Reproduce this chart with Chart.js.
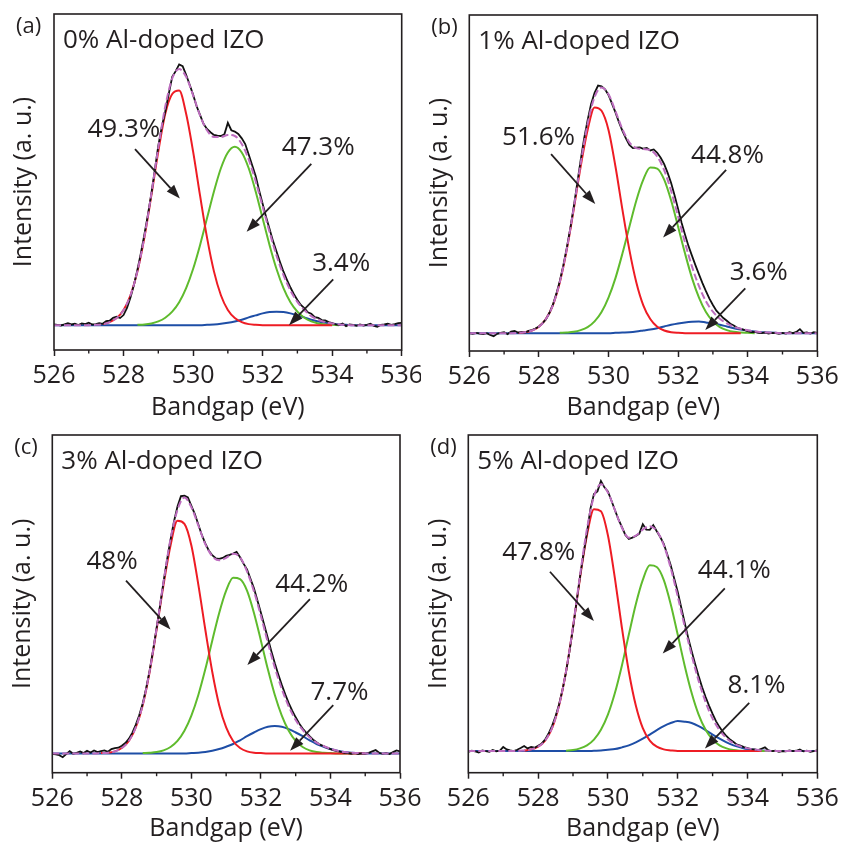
<!DOCTYPE html>
<html><head><meta charset="utf-8">
<script src="https://cdn.jsdelivr.net/npm/chart.js@4.4.1/dist/chart.umd.min.js"></script>
<style>
html,body{margin:0;padding:0;background:#fff;}
#wrap{position:relative;width:842px;height:846px;overflow:hidden;background:#fff;}
canvas{position:absolute;}
</style></head><body>
<div id="wrap">
<canvas id="ca" width="421" height="426" style="left:0px;top:0px;width:421px;height:426px"></canvas>
<canvas id="cb" width="422" height="426" style="left:420px;top:0px;width:422px;height:426px"></canvas>
<canvas id="cc" width="421" height="426" style="left:0px;top:420px;width:421px;height:426px"></canvas>
<canvas id="cd" width="422" height="426" style="left:420px;top:420px;width:422px;height:426px"></canvas>
</div>
<script>
const N = null;
// Binding energy grids (eV)
const eV_data = [
526.0,526.1,526.2,526.3,526.4,526.5,526.6,526.7,526.8,526.9,
527.0,527.1,527.2,527.3,527.4,527.5,527.6,527.7,527.8,527.9,
528.0,528.1,528.2,528.3,528.4,528.5,528.6,528.7,528.8,528.9,
529.0,529.1,529.2,529.3,529.4,529.5,529.6,529.7,529.8,529.9,
530.0,530.1,530.2,530.3,530.4,530.5,530.6,530.7,530.8,530.9,
531.0,531.1,531.2,531.3,531.4,531.5,531.6,531.7,531.8,531.9,
532.0,532.1,532.2,532.3,532.4,532.5,532.6,532.7,532.8,532.9,
533.0,533.1,533.2,533.3,533.4,533.5,533.6,533.7,533.8,533.9,
534.0,534.1,534.2,534.3,534.4,534.5,534.6,534.7,534.8,534.9,
535.0,535.1,535.2,535.3,535.4,535.5,535.6,535.7,535.8,535.9,
536.0];
const eV_fit = [
526.0,526.2,526.4,526.6,526.8,527.0,527.2,527.4,527.6,527.8,
528.0,528.2,528.4,528.6,528.8,529.0,529.2,529.4,529.6,529.8,
530.0,530.2,530.4,530.6,530.8,531.0,531.2,531.4,531.6,531.8,
532.0,532.2,532.4,532.6,532.8,533.0,533.2,533.4,533.6,533.8,
534.0,534.2,534.4,534.6,534.8,535.0,535.2,535.4,535.6,535.8,
536.0];
const xTickValues = [526,528,530,532,534,536];
const xMinorTicks = [527,529,531,533,535];

// ---------- (a) 0% ----------
const raw_a = [
7.6,7.5,7.3,7.6,8.0,7.6,7.8,7.4,7.9,7.7,
8.1,7.6,7.7,8.0,7.8,8.6,8.7,9.6,9.9,9.5,
10.4,12.5,15.6,19.4,23.9,28.9,34.4,40.2,46.5,53.6,
60.8,66.4,71.0,76.2,81.3,83.0,85.0,84.5,81.9,79.0,
76.0,72.6,70.0,67.3,65.8,64.8,64.0,63.8,63.7,64.2,
67.6,65.4,65.0,64.3,63.0,61.3,58.2,55.0,51.8,47.5,
43.5,39.6,36.0,32.4,29.3,26.2,23.3,20.9,18.6,16.6,
14.9,13.4,12.5,11.2,10.8,9.8,9.6,8.9,8.8,8.3,
8.0,7.6,7.4,7.9,7.1,7.6,7.5,7.2,7.6,7.3,
7.5,7.8,7.2,6.9,7.5,7.6,7.8,7.5,7.7,8.0,
8.1];
const env_a = [
7.4,7.4,7.4,7.4,7.4,7.4,7.5,7.7,8.3,9.5,
11.9,16.3,23.5,33.7,46.5,60.2,72.5,80.8,83.6,81.3,
75.8,69.8,65.4,63.4,63.4,64.0,63.7,61.3,56.7,50.2,
42.7,35.1,28.1,22.3,17.7,14.3,11.9,10.1,9.0,8.3,
7.9,7.6,7.5,7.4,7.4,7.4,7.4,7.4,7.4,7.4,
7.4];
const red_a = [
N,N,N,N,N,N,N,7.7,8.3,9.5,
11.9,16.3,23.4,33.5,46.0,59.1,70.3,76.2,77.2,70.3,
59.1,46.0,33.5,23.4,16.3,11.9,9.5,8.3,7.7,7.5,
7.4,7.4,7.4,7.4,7.4,7.4,7.4,7.4,7.4,7.4,
7.4,N,N,N,N,N,N,N,N,N,
N];
const green_a = [
N,N,N,N,N,N,N,N,N,N,
N,N,7.5,7.6,7.9,8.5,9.6,11.4,14.2,18.4,
24.1,31.2,39.2,47.2,54.1,58.8,60.5,58.8,54.1,47.2,
39.2,31.2,24.1,18.4,14.2,11.4,9.6,8.5,7.9,7.6,
7.5,7.4,N,N,N,N,N,N,N,N,
N];
const blue_a = [
7.4,7.4,7.4,7.4,7.4,7.4,7.4,7.4,7.4,7.4,
7.4,7.4,7.4,7.4,7.4,7.4,7.4,7.4,7.4,7.4,
7.4,7.4,7.5,7.6,7.8,8.1,8.5,9.0,9.7,10.3,
10.9,11.3,11.4,11.3,10.9,10.3,9.7,9.0,8.5,8.1,
7.8,7.6,7.5,7.4,7.4,7.4,7.4,7.4,7.4,7.4,
7.4];
const pct_a = ['49.3%','47.3%','3.4%'];
const pctPos_a = [[528.01,66.3],[533.60,60.8],[534.26,26.3]];
const arrows_a = [[528.33,59.8,529.62,45.1],[533.40,55.4,531.54,35.2],[534.03,21.0,532.76,7.4]];

// ---------- (b) 1% ----------
const raw_b = [
5.3,5.1,5.4,5.2,5.0,5.3,4.8,4.4,5.1,5.4,
5.6,5.0,5.8,6.0,5.5,5.7,5.5,6.0,6.2,6.7,
7.3,8.2,9.4,11.3,13.7,17.0,20.8,25.4,30.6,36.4,
42.8,49.8,56.8,63.3,68.7,73.5,76.8,79.0,78.8,77.9,
76.2,73.6,71.0,68.1,65.5,63.3,61.3,60.4,60.5,60.6,
60.2,60.4,59.7,60.0,59.0,57.5,55.6,53.0,50.0,46.3,
42.3,38.2,34.6,31.2,28.3,25.5,22.8,20.2,17.8,15.6,
13.7,12.0,10.9,9.8,9.0,8.1,7.6,6.9,6.6,6.3,
5.9,5.6,5.7,5.4,5.3,5.5,5.2,5.4,5.3,5.1,
5.4,5.2,5.6,5.3,5.7,6.5,5.4,5.5,5.2,5.6,
5.4];
const env_b = [
5.3,5.3,5.3,5.3,5.3,5.3,5.3,5.4,5.6,6.1,
7.2,9.5,13.6,20.5,30.3,42.5,55.8,67.6,75.6,78.4,
76.4,71.4,66.0,62.1,60.4,60.1,59.8,57.9,53.8,47.6,
40.0,32.2,25.1,19.3,14.8,11.7,9.6,8.2,7.2,6.6,
6.2,5.8,5.6,5.5,5.4,5.3,5.3,5.3,5.3,5.3,
5.3];
const red_b = [
N,N,N,N,N,N,N,5.4,5.6,6.1,
7.2,9.5,13.6,20.4,30.1,42.1,54.9,65.8,72.5,71.5,
65.8,54.9,42.1,30.1,20.4,13.6,9.5,7.2,6.1,5.6,
5.4,5.3,5.3,5.3,5.3,5.3,5.3,5.3,5.3,5.3,
N,N,N,N,N,N,N,N,N,N,
N];
const green_b = [
N,N,N,N,N,N,N,N,N,N,
N,N,N,5.4,5.5,5.7,6.2,7.1,8.8,11.6,
15.9,21.7,29.0,37.0,44.8,51.0,54.6,54.3,51.0,44.8,
37.0,29.0,21.7,15.9,11.6,8.8,7.1,6.2,5.7,5.5,
5.4,5.3,N,N,N,N,N,N,N,N,
N];
const blue_b = [
5.3,5.3,5.3,5.3,5.3,5.3,5.3,5.3,5.3,5.3,
5.3,5.3,5.3,5.3,5.3,5.3,5.3,5.3,5.3,5.3,
5.3,5.4,5.5,5.6,5.8,6.1,6.4,6.8,7.3,7.8,
8.2,8.5,8.7,8.8,8.5,8.2,7.8,7.3,6.8,6.4,
6.1,5.8,5.6,5.5,5.4,5.3,5.3,5.3,5.3,5.3,
5.3];
const pct_b = ['51.6%','44.8%','3.6%'];
const pctPos_b = [[527.99,64.0],[533.42,58.6],[534.32,23.9]];
const arrows_b = [[528.35,58.6,529.62,43.75],[533.38,53.9,531.57,33.8],[533.93,18.65,532.78,6.25]];

// ---------- (c) 3% ----------
const raw_c = [
5.6,5.4,5.2,4.6,5.5,6.4,5.6,5.9,6.3,5.8,
6.5,6.0,6.6,6.1,6.4,6.6,6.2,7.0,7.3,7.4,
8.0,8.8,10.0,11.8,14.2,17.0,20.5,25.0,30.3,36.4,
42.9,49.6,56.6,63.0,69.0,74.4,78.8,81.9,82.0,81.5,
79.0,76.6,73.5,70.4,67.9,65.8,64.4,63.5,63.3,63.6,
64.2,64.5,64.9,65.4,63.8,61.9,60.2,57.4,54.6,51.0,
47.4,43.6,39.8,36.0,32.4,29.1,26.0,23.2,20.6,18.4,
16.4,14.6,13.1,11.9,10.8,9.8,9.0,8.3,7.9,7.4,
7.0,6.6,6.4,6.2,5.9,5.8,5.6,5.8,5.5,5.7,
5.6,5.9,6.3,6.7,5.9,5.6,5.8,5.5,6.1,6.6,
6.3];
const env_c = [
5.7,5.7,5.7,5.7,5.7,5.7,5.7,5.8,5.9,6.3,
7.3,9.4,13.4,20.1,30.1,42.8,56.6,69.2,77.8,81.5,
78.6,73.2,67.7,64.1,62.9,63.6,64.8,63.8,59.6,53.7,
46.4,38.5,31.1,24.8,19.6,15.6,12.7,10.5,8.9,7.9,
7.1,6.5,6.1,5.9,5.8,5.7,5.7,5.7,5.7,5.7,
5.7];
const red_c = [
N,N,N,N,N,N,N,5.8,5.9,6.3,
7.3,9.4,13.4,20.0,29.9,42.4,55.7,67.3,74.6,73.7,
67.3,55.7,42.4,29.9,20.0,13.4,9.4,7.3,6.3,5.9,
5.8,5.7,5.7,5.7,5.7,5.7,5.7,5.7,5.7,5.7,
5.7,5.7,5.7,5.7,5.7,5.7,N,N,N,N,
N];
const green_c = [
N,N,N,N,N,N,N,N,N,N,
N,N,N,5.8,5.9,6.1,6.6,7.6,9.4,12.4,
16.9,23.0,30.6,39.1,47.3,53.9,57.7,57.3,53.9,47.3,
39.1,30.6,23.0,16.9,12.4,9.4,7.6,6.6,6.1,5.9,
5.8,5.7,5.7,5.7,N,N,N,N,N,N,
N];
const blue_c = [
5.7,5.7,5.7,5.7,5.7,5.7,5.7,5.7,5.7,5.7,
5.7,5.7,5.7,5.7,5.7,5.7,5.7,5.7,5.7,5.7,
5.8,5.9,6.1,6.5,7.0,7.7,8.5,9.6,10.8,11.9,
12.9,13.6,13.8,13.6,12.9,11.9,10.8,9.6,8.5,7.7,
7.0,6.5,6.1,5.9,5.8,5.7,5.7,5.7,5.7,5.7,
5.7];
const pct_c = ['48%','44.2%','7.7%'];
const pctPos_c = [[527.72,63.1],[533.46,56.3],[534.26,24.3]];
const arrows_c = [[528.12,56.9,529.40,42.4],[533.41,51.4,531.61,31.9],[534.08,20.0,532.84,6.5]];

// ---------- (d) 5% ----------
const raw_d = [
6.2,6.5,6.3,6.0,6.6,6.4,6.2,6.7,6.3,6.5,
7.6,6.9,6.6,6.4,6.8,7.3,7.9,7.2,7.6,7.4,
8.0,8.6,9.8,11.6,13.9,16.7,20.2,24.6,29.8,36.0,
42.9,50.4,58.0,64.8,71.0,78.2,82.5,83.3,86.4,84.5,
83.3,80.6,77.8,75.1,72.8,70.4,69.2,69.6,70.1,70.8,
73.6,72.0,71.9,73.3,71.5,69.8,67.8,64.7,61.4,57.5,
53.6,49.0,44.4,40.0,36.0,32.2,28.6,25.3,22.4,19.8,
17.4,15.2,13.5,12.0,10.8,9.8,9.1,8.3,8.0,7.6,
7.3,7.0,6.9,6.7,7.1,7.5,6.6,6.4,6.5,6.2,
6.4,6.3,6.6,6.4,6.5,6.9,6.3,6.5,6.2,6.4,
6.6];
const env_d = [
6.4,6.4,6.4,6.4,6.4,6.4,6.4,6.4,6.6,6.9,
7.7,9.5,13.3,19.9,30.0,43.3,58.4,72.2,81.8,85.4,
83.0,77.8,72.6,69.6,70.2,72.0,73.0,71.6,67.4,60.6,
52.2,43.3,34.8,27.2,20.9,16.0,12.6,10.2,8.7,7.8,
7.2,6.9,6.6,6.5,6.4,6.4,6.4,6.4,6.4,6.4,
6.4];
const red_d = [
N,N,N,N,N,N,N,N,6.6,6.9,
7.7,9.5,13.2,19.9,29.9,43.0,57.6,70.3,78.0,77.4,
70.3,57.6,43.0,29.9,19.9,13.2,9.5,7.7,6.9,6.6,
6.4,6.4,6.4,6.4,6.4,6.4,6.4,6.4,6.4,6.4,
6.4,6.4,6.4,N,N,N,N,N,N,N,
N];
const green_d = [
N,N,N,N,N,N,N,N,N,N,
N,N,N,N,6.5,6.7,7.2,8.1,9.8,12.7,
17.2,23.6,31.7,40.9,49.9,57.1,61.4,60.9,57.1,49.9,
40.9,31.7,23.6,17.2,12.7,9.8,8.1,7.2,6.7,6.5,
6.4,6.4,6.4,6.4,6.4,6.4,N,N,N,N,
N];
const blue_d = [
6.4,6.4,6.4,6.4,6.4,6.4,6.4,6.4,6.4,6.4,
6.4,6.4,6.4,6.4,6.4,6.4,6.4,6.4,6.5,6.6,
6.8,7.0,7.5,8.1,9.0,10.1,11.3,12.6,13.8,14.7,
15.3,15.1,14.7,13.8,12.6,11.3,10.1,9.0,8.1,7.5,
7.0,6.8,6.6,6.5,6.4,6.4,6.4,6.4,6.4,6.4,
6.4];
const pct_d = ['47.8%','44.1%','8.1%'];
const pctPos_d = [[528.02,65.7],[533.62,60.5],[534.26,26.3]];
const arrows_d = [[528.34,59.5,529.60,44.9],[533.35,54.6,531.57,35.3],[534.05,20.7,532.78,7.2]];

const panelLetters = ['(a)','(b)','(c)','(d)'];
const panelTitles = ['0% Al-doped IZO','1% Al-doped IZO','3% Al-doped IZO','5% Al-doped IZO'];
const xTitle = 'Bandgap (eV)';
const yTitle = 'Intensity (a. u.)';

// ---------- drawing ----------
const INK = '#231f20';
const FONT = "'Open Sans', 'Noto Sans', sans-serif";

function pts(xs, ys) {
  const out = [];
  for (let i = 0; i < xs.length; i++) if (ys[i] !== null) out.push({x: xs[i], y: ys[i]});
  return out;
}

function drawArrow(ctx, x1, y1, x2, y2) {
  const ang = Math.atan2(y2 - y1, x2 - x1), L = 14, W = 5;
  const bx = x2 - L * Math.cos(ang), by = y2 - L * Math.sin(ang);
  ctx.beginPath(); ctx.moveTo(x1, y1); ctx.lineTo(bx, by);
  ctx.lineWidth = 1.8; ctx.stroke();
  ctx.beginPath(); ctx.moveTo(x2, y2);
  ctx.lineTo(bx + W * Math.sin(ang), by - W * Math.cos(ang));
  ctx.lineTo(bx - W * Math.sin(ang), by + W * Math.cos(ang));
  ctx.closePath(); ctx.fill();
}

function panelPlugin(k, pct, pctPos, arrows) {
  return {
    id: 'panelDeco' + k,
    afterDraw(chart) {
      const {ctx, chartArea: a, scales: {x, y}} = chart;
      ctx.save();
      ctx.strokeStyle = INK; ctx.fillStyle = INK;
      ctx.lineWidth = 1.6;
      ctx.strokeRect(a.left, a.top, a.right - a.left, a.bottom - a.top);
      ctx.lineWidth = 1.4;
      xMinorTicks.forEach(v => {
        const px = x.getPixelForValue(v);
        ctx.beginPath(); ctx.moveTo(px, a.bottom); ctx.lineTo(px, a.bottom + 3.5); ctx.stroke();
      });
      ctx.textAlign = 'left'; ctx.textBaseline = 'alphabetic';
      ctx.font = '22px ' + FONT;
      ctx.fillText(panelLetters[k], a.left - 38, a.top + 18.5);
      ctx.font = '26px ' + FONT;
      ctx.fillText(panelTitles[k], a.left + 9, a.top + 33.5);
      ctx.textAlign = 'center';
      pct.forEach((t, i) => {
        const px = x.getPixelForValue(pctPos[i][0]);
        const py = y.getPixelForValue(pctPos[i][1]);
        ctx.fillText(t, px, py + 9.3);
      });
      arrows.forEach(ar => {
        drawArrow(ctx, x.getPixelForValue(ar[0]), y.getPixelForValue(ar[1]),
                       x.getPixelForValue(ar[2]), y.getPixelForValue(ar[3]));
      });
      ctx.restore();
    }
  };
}

function makeChart(id, k, S, L) {
  const ds = (label, xs, ys, color, width, order, extra) => Object.assign({
    label, data: pts(xs, ys), borderColor: color, backgroundColor: color,
    borderWidth: width, pointRadius: 0, fill: false, order,
    cubicInterpolationMode: 'monotone', tension: 0.4
  }, extra || {});
  new Chart(document.getElementById(id), {
    type: 'line',
    data: {
      datasets: [
        ds('Fit envelope', eV_fit, S.env, '#bd6dbf', 2, 0, {borderDash: [7, 3]}),
        ds('Measured', eV_data, S.raw, '#111111', 1.8, 1, {tension: 0, cubicInterpolationMode: 'default'}),
        ds('Peak 1', eV_fit, S.red, '#ee1c24', 2, 2),
        ds('Peak 2', eV_fit, S.green, '#5fbb2d', 2, 3),
        ds('Peak 3', eV_fit, S.blue, '#1e4ea6', 2, 4)
      ]
    },
    options: {
      responsive: false, animation: false, devicePixelRatio: 1,
      layout: {padding: {left: 0, top: L.top, right: L.right, bottom: 0}},
      plugins: {legend: {display: false}, tooltip: {enabled: false}},
      scales: {
        x: {
          type: 'linear', min: 526, max: 536,
          afterBuildTicks: s => { s.ticks = xTickValues.map(v => ({value: v})); },
          ticks: {color: INK, font: {family: FONT, size: 25}, padding: 5, maxRotation: 0, autoSkip: false},
          grid: {display: true, drawOnChartArea: false, drawTicks: true, tickLength: 6, tickWidth: 1.5, tickColor: INK},
          border: {display: false},
          title: {display: true, text: xTitle, color: INK, font: {family: FONT, size: 25}, padding: {top: 0, bottom: L.xtPad}},
          afterFit: s => { s.height = L.xh; s.paddingLeft = 0; s.paddingRight = 0; }
        },
        y: {
          min: 0, max: 100,
          ticks: {display: false}, grid: {display: false}, border: {display: false},
          title: {display: true, text: yTitle, color: INK, font: {family: FONT, size: 25}, padding: {top: L.ytPad, bottom: 0}},
          afterFit: s => { s.width = L.yw; }
        }
      }
    },
    plugins: [panelPlugin(k, S.pct, S.pctPos, S.arrows)]
  });
}

makeChart('ca', 0, {raw: raw_a, env: env_a, red: red_a, green: green_a, blue: blue_a, pct: pct_a, pctPos: pctPos_a, arrows: arrows_a},
  {top: 14, right: 19.3, yw: 54, xh: 76, ytPad: 9, xtPad: 3});
makeChart('cb', 1, {raw: raw_b, env: env_b, red: red_b, green: green_b, blue: blue_b, pct: pct_b, pctPos: pctPos_b, arrows: arrows_b},
  {top: 15, right: 24.7, yw: 49.3, xh: 75, ytPad: 5, xtPad: 3});
makeChart('cc', 2, {raw: raw_c, env: env_c, red: red_c, green: green_c, blue: blue_c, pct: pct_c, pctPos: pctPos_c, arrows: arrows_c},
  {top: 15, right: 21, yw: 52.3, xh: 73.3, ytPad: 7.5, xtPad: 2});
makeChart('cd', 3, {raw: raw_d, env: env_d, red: red_d, green: green_d, blue: blue_d, pct: pct_d, pctPos: pctPos_d, arrows: arrows_d},
  {top: 15, right: 24.7, yw: 48.3, xh: 73.3, ytPad: 4, xtPad: 2});
</script>
</body></html>
